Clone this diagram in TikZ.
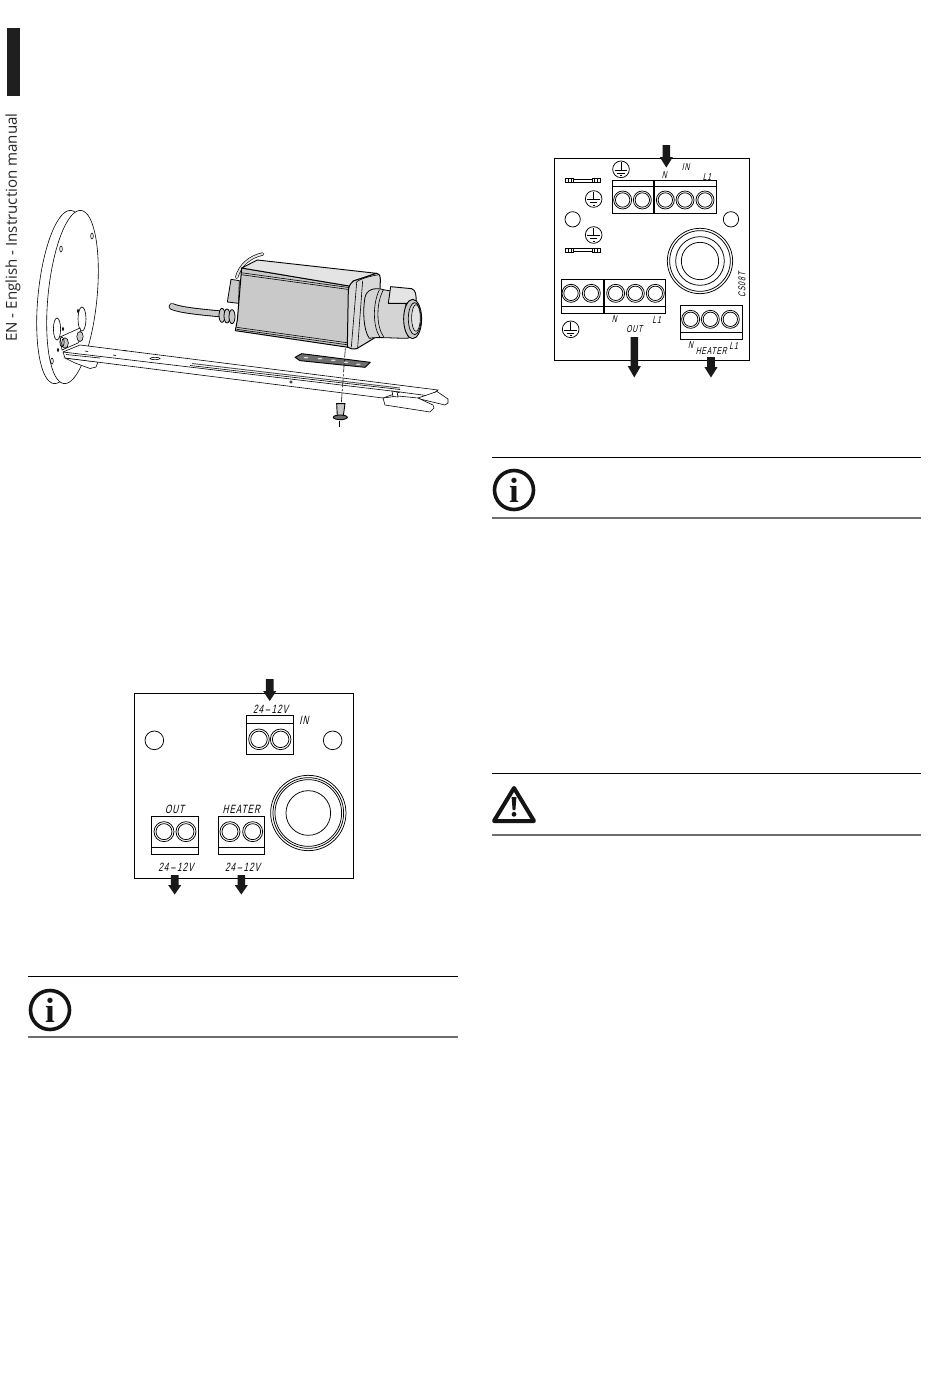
\documentclass[tikz,border=0pt]{standalone}
\usepackage{fontspec}
\setmainfont{Open Sans}
\newfontfamily\lab[FakeStretch=0.68,FakeSlant=0.22,LetterSpace=8]{Liberation Sans}
\newfontfamily\sidefont{Open Sans}
\newfontfamily\ifont{Liberation Serif}
\definecolor{camgray}{HTML}{C9C9C9}
\definecolor{camlight}{HTML}{E4E4E4}
\definecolor{ruledark}{HTML}{6E6E6E}
\tikzset{
  ln/.style={draw=black,line width=0.6pt},
  bd/.style={draw=black,line width=0.75pt},
  lbl/.style={inner sep=0pt,font=\lab\fontsize{12}{12}\selectfont},
  lbs/.style={inner sep=0pt,font=\lab\fontsize{10}{10}\selectfont},
  toprule/.style={draw=black,line width=0.8pt},
  botrule/.style={draw=ruledark,line width=1.1pt}
}
\newcommand{\darr}[4]{% x, y1, y2, head start
  \fill[black!90] (#1-3.8,#2) -- (#1+3.8,#2) -- (#1+3.8,#4) -- (#1+6.6,#4) -- (#1,#3) -- (#1-6.6,#4) -- (#1-3.8,#4) -- cycle;}
\newcommand{\screwt}[3]{% x y r (outer), zoom coordinates
  \draw[bd] (#1,#2) circle[radius=#3]; \draw[bd] (#1,#2) circle[radius=#3*0.8];}
\newcommand{\earth}[2]{%
  \draw[bd] (#1,#2) circle[radius=25];
  \draw[bd] (#1,#2-22) -- (#1,#2+2) (#1-19,#2+2) -- (#1+19,#2+2) (#1-11,#2+11) -- (#1+11,#2+11) (#1-3,#2+19) -- (#1+3,#2+19);}
\newcommand{\fuse}[2]{%
  \draw[bd] (#1,#2-6) rectangle (#1+24,#2+6);
  \draw[bd] (#1+79,#2-6) rectangle (#1+103,#2+6);
  \draw[bd] (#1+24,#2-5) -- (#1+79,#2-5) (#1+24,#2+5) -- (#1+79,#2+5);
  \draw[bd] (#1+8,#2-6) -- (#1+8,#2+6) (#1+16,#2-6) -- (#1+16,#2+6) (#1+87,#2-6) -- (#1+87,#2+6) (#1+95,#2-6) -- (#1+95,#2+6);}
\newcommand{\infoicon}[2]{%
  \draw[black!92,line width=3.6pt] (#1,#2) circle[radius=19.5];
  \node[inner sep=0pt,font=\ifont\bfseries\fontsize{35}{35}\selectfont,text=black!92] (i#1) at (#1,#2) {i};}
\begin{document}
\begin{tikzpicture}[x=1pt,y=-1pt]
\useasboundingbox (0,0) rectangle (950,1374);
\fill[white] (0,0) rectangle (950,1374);
% side tab
\fill[black!88] (6.7,28) rectangle (20,96);
\node[rotate=90,inner sep=0pt,anchor=west,text=black!85,font=\sidefont\fontsize{15.1}{15}\selectfont] (side) at (13,342) {EN - English - Instruction manual};
% disc
\draw[ln,fill=white,rotate around={-5.6:(62.5,297)}] (62.5,297) ellipse[x radius=24.5,y radius=87];
\draw[ln,fill=white,rotate around={-5.6:(72.5,297)}] (72.5,297) ellipse[x radius=24.5,y radius=87];
\draw[ln] (57,329) ellipse[x radius=3.6,y radius=11];
\draw[ln] (82,319) ellipse[x radius=4,y radius=12];
\draw[ln] (61,249) ellipse[x radius=1.3,y radius=3];
\draw[ln] (92,236) ellipse[x radius=1.3,y radius=3];
\draw[ln] (52,361) ellipse[x radius=1.3,y radius=3];
\draw[ln] (63,329) ellipse[x radius=.8,y radius=1.6];
\draw[ln] (78,311) ellipse[x radius=.8,y radius=1.6];
\draw[ln] (58,350) ellipse[x radius=.8,y radius=1.6];
% bracket on disc
\draw[ln,fill=white] (60,337) -- (80,328) -- (82,336) -- (78,343) -- (62,350) -- cycle;
\draw[ln,fill=camgray] (65,343) ellipse[x radius=3.4,y radius=5.2];
\draw[ln,fill=camgray] (80,336.5) ellipse[x radius=3.2,y radius=5];
\draw[ln] (62,342) ellipse[x radius=2.2,y radius=5];
% bar lower lobe left and main body
\draw[ln,fill=white] (65,358) -- (75,363) -- (90,368.5) -- (96,367) -- (98,362) -- cycle;
\draw[ln,fill=white] (80,345) -- (438,390) -- (430,396) -- (400,392) -- (383,398) -- (65,358) -- (63,352) -- cycle;
\draw[ln] (63,352) -- (400,392);
\draw[ln] (66,354.5) -- (100,358);
\draw[ln] (190,365.5) -- (400,389.5);
\draw[line width=0.9pt,black!70] (192,363.5) -- (400,388);
\draw[ln] (155,358.5) ellipse[x radius=5,y radius=1.2];
\draw[ln] (291,382) circle[radius=1.3];
\draw[ln] (85,351) -- (88,351.5) (113,355) -- (116,355.5) (124,350.5) -- (127,351);
% bar right end
\draw[ln,fill=white] (418,398) -- (437,391.5) -- (448,399) -- (448,403) -- (445,405) -- (420,399) -- cycle;
\draw[ln,fill=white] (383,398) -- (385,405) -- (430,412) -- (434,408) -- (433,405) -- (418,398) -- (398,396) -- cycle;
\draw[ln,fill=white] (392,391) -- (397,392) -- (398,397) -- (393,396.5) -- cycle;
% cable
\draw[black,line width=6.8pt,line cap=round] (172,306.5) .. controls (180,310) and (200,312) .. (222,314);
\draw[camgray,line width=5pt,line cap=round] (172,306.5) .. controls (180,310) and (200,312) .. (222,314);
% camera (coordinates of the crop at 220,240, one third scale)
\begin{scope}[shift={(220,240)},x=0.3333pt,y=-0.3333pt]
  % gland
  \foreach \xx/\yy in {6/226,21/228,36/230}
    \draw[line width=0.8pt,draw=black,fill=camgray] (\xx,\yy) ellipse[x radius=9,y radius=21];
  % connector
  \draw[line width=0.8pt,fill=camgray] (33,118) -- (58,122) -- (56,190) -- (22,186) -- cycle;
  % wire
  \draw[black,line width=3.2pt,line cap=round] (50,112) .. controls (60,75) and (90,50) .. (128,42);
  \draw[camlight,line width=1.9pt,line cap=round] (50,112) .. controls (60,75) and (90,50) .. (128,42);
  % body
  \draw[line width=1pt,fill=camgray,line join=round] (65,84) -- (400,140) -- (385,322) -- (46,272) -- (52,240) -- cycle;
  \draw[line width=0.9pt,fill=camlight,line join=round] (65,84) -- (112,60) -- (470,100) -- (400,123) -- (400,140) -- cycle;
  \draw[line width=0.6pt] (63,104) -- (397,150);
  \draw[line width=0.6pt] (62,98) -- (397,144);
  \draw[line width=0.6pt] (50,262) -- (387,309);
  \draw[line width=0.6pt] (50,268) -- (387,315);
  % front plate
  \draw[line width=1pt,fill=camgray!70!white,line join=round] (400,123) -- (470,100) .. controls (480,103) and (482,110) .. (481,118) -- (478,272) .. controls (477,282) and (470,290) .. (460,296) -- (412,325) .. controls (400,330) and (388,325) .. (382,320) -- (385,150) .. controls (388,135) and (393,128) .. (400,123) -- cycle;
  \draw[line width=0.6pt] (408,128) .. controls (415,118) and (450,108) .. (478,104);
  \draw[line width=0.6pt] (410,128) -- (394,322);
  \draw[line width=0.6pt] (428,122) -- (413,323);
  % lens base
  \draw[line width=0.8pt,fill=camgray!80!white,line join=round] (435,172) .. controls (440,150) and (460,140) .. (495,150) -- (555,160) -- (565,295) .. controls (520,295) and (470,290) .. (448,295) .. controls (430,270) and (428,210) .. (435,172) -- cycle;
  \draw[line width=0.6pt] (478,150) .. controls (458,190) and (458,260) .. (480,292);
  \draw[line width=0.6pt] (490,150) .. controls (468,190) and (468,260) .. (492,292);
  % lens hump
  \draw[line width=0.9pt,fill=camlight,line join=round] (512,140) -- (575,146) .. controls (587,150) and (590,165) .. (588,190) -- (505,190) -- cycle;
  % lens front
  \draw[line width=0.9pt,fill=camgray] (578,237) ellipse[x radius=27,y radius=59];
  \draw[line width=0.7pt,fill=camgray!80!white] (584,236) ellipse[x radius=19,y radius=48];
  \draw[line width=0.6pt,fill=camlight] (588,234) ellipse[x radius=13,y radius=40];
  % plate
  \draw[line width=0.9pt,fill=ruledark,line join=round] (225,352) -- (245,341) -- (451,367) -- (435,382) -- (240,362) -- cycle;
  \foreach \xx/\yy in {258/353,300/356,340/361,378/367,415/373}
    \fill[white!85!black] (\xx,\yy) ellipse[x radius=7,y radius=2.4];
  % axis
  \draw[line width=0.55pt,dash pattern=on 9pt off 2pt on 2pt off 2pt] (376,325) -- (364,490);
  \draw[line width=0.55pt] (358,544) -- (358,561);
  % screw
  \draw[line width=0.9pt,fill=camgray] (350,491) -- (375,491) -- (370,528) -- (352,528) -- cycle;
  \draw[line width=0.9pt,fill=ruledark] (361,532) ellipse[x radius=21,y radius=7];
\end{scope}
% board 1
\begin{scope}[shift={(125,670)},x=0.3333pt,y=-0.3333pt]
  \draw[bd] (28,70) rectangle (686,625);
  \draw[bd] (88,211) circle[radius=28];
  \draw[bd] (623,211) circle[radius=28];
  \draw[bd] (364,137) rectangle (505,253) (364,160) -- (505,160);
  \screwt{402}{208}{31}\screwt{467}{208}{31}
  \draw[bd] (79,438) rectangle (220,553) (79,532) -- (220,532);
  \screwt{117}{485}{30}\screwt{183}{485}{30}
  \draw[bd] (280,438) rectangle (419,553) (280,532) -- (419,532);
  \screwt{315}{485}{30}\screwt{383}{485}{30}
  \draw[bd] (550,429) circle[radius=113];
  \draw[bd] (550,429) circle[radius=106];
  \draw[bd] (550,429) circle[radius=100];
  \draw[bd] (550,429) circle[radius=67];
  \node[lbl] (a1) at (437,117) {24\,–\,12V};
  \node[lbl] (a2) at (537,152) {IN};
  \node[lbl] (a3) at (149,417) {OUT};
  \node[lbl] (a4) at (349,417) {HEATER};
  \node[lbl] (a5) at (153,593) {24\,–\,12V};
  \node[lbl] (a6) at (353,593) {24\,–\,12V};
\end{scope}
\darr{269.7}{679}{701}{691}
\darr{174.7}{875}{894.5}{885}
\darr{241.3}{875}{894.5}{885}
% board 2
\begin{scope}[shift={(545,140)},x=0.3333pt,y=-0.3333pt]
  \draw[bd] (28,55) rectangle (613,660);
  \draw[bd] (83,238) circle[radius=23];
  \draw[bd] (558,238) circle[radius=23];
  \draw[line width=1pt] (202,120) rectangle (327,222) (202,140) -- (327,140);
  \draw[line width=1pt] (330,120) rectangle (515,222) (330,140) -- (515,140);
  \screwt{233}{180}{27}\screwt{292}{180}{27}\screwt{361}{180}{27}\screwt{420}{180}{27}\screwt{480}{180}{27}
  \draw[line width=1pt] (48,418) rectangle (174,520) (48,500) -- (174,500);
  \draw[line width=1pt] (178,418) rectangle (361,520) (178,500) -- (361,500);
  \screwt{78}{460}{27}\screwt{139}{460}{27}\screwt{212}{460}{27}\screwt{271}{460}{27}\screwt{331}{460}{27}
  \draw[line width=1pt] (408,496) rectangle (592,598) (408,578) -- (592,578);
  \screwt{437}{538}{27}\screwt{496}{538}{27}\screwt{556}{538}{27}
  \draw[bd] (465,363) circle[radius=98];
  \draw[bd] (465,363) circle[radius=91];
  \draw[bd] (465,363) circle[radius=73];
  \draw[bd] (465,363) circle[radius=56];
  \earth{228}{88}\earth{146}{177}\earth{146}{285}\earth{77}{568}
  \fuse{62}{122}\fuse{62}{330}
  \node[lbs] (b1) at (422,82) {IN};
  \node[lbs] (b2) at (358,106) {N};
  \node[lbs] (b3) at (486,110) {L1};
  \node[lbs] (b4) at (208,538) {N};
  \node[lbs] (b5) at (335,540) {L1};
  \node[lbs] (b6) at (268,567) {OUT};
  \node[lbs,rotate=90] (b7) at (591,435) {CS08T};
  \node[lbs] (b8) at (437,614) {N};
  \node[lbs] (b9) at (499,634) {HEATER};
  \node[lbs] (b10) at (566,617) {L1};
\end{scope}
\darr{666.3}{145}{167.5}{157}
\darr{634.3}{337}{377.5}{366}
\darr{711}{357}{377.5}{367}
% notes
\draw[toprule] (492,457) -- (921,457);
\draw[botrule] (492,518) -- (921,518);
\infoicon{514}{490}
\draw[toprule] (28,976) -- (458,976);
\draw[botrule] (28,1037) -- (458,1037);
\infoicon{50}{1010}
\draw[toprule] (492,773) -- (921,773);
\draw[botrule] (492,835) -- (921,835);
\draw[black!92,line width=4pt,line join=round] (514,788) -- (534,821) -- (494,821) -- cycle;
\fill[black!92] (511.6,797) -- (516.4,797) -- (515.4,810) -- (512.6,810) -- cycle;
\fill[black!92] (514,814.3) circle[radius=2.4];
\end{tikzpicture}
\end{document}
